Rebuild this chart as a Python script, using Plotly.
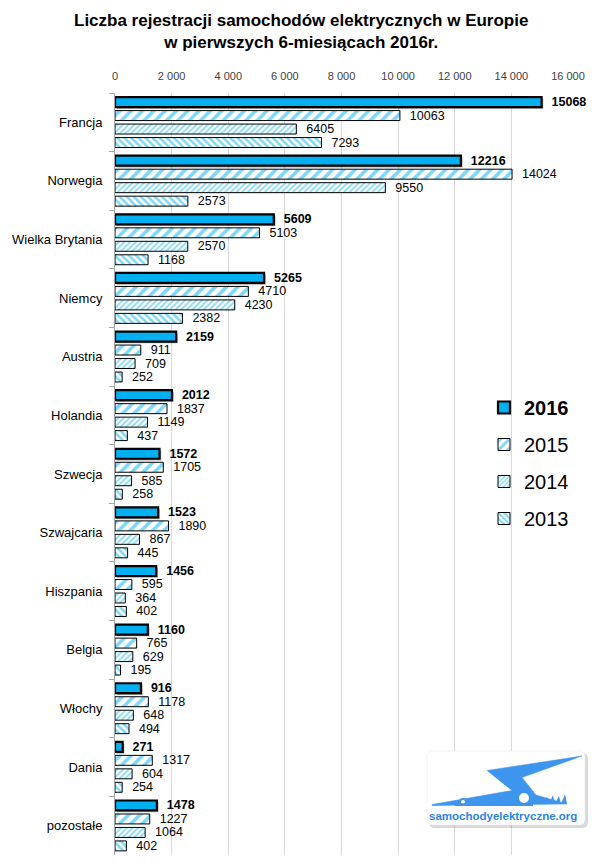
import plotly.graph_objects as go

categories = ["Francja", "Norwegia", "Wielka Brytania", "Niemcy", "Austria", "Holandia",
              "Szwecja", "Szwajcaria", "Hiszpania", "Belgia", "Włochy", "Dania", "pozostałe"]
y2016 = [15068, 12216, 5609, 5265, 2159, 2012, 1572, 1523, 1456, 1160, 916, 271, 1478]
y2015 = [10063, 14024, 5103, 4710, 911, 1837, 1705, 1890, 595, 765, 1178, 1317, 1227]
y2014 = [6405, 9550, 2570, 4230, 709, 1149, 585, 867, 364, 629, 648, 604, 1064]
y2013 = [7293, 2573, 1168, 2382, 252, 437, 258, 445, 402, 195, 494, 254, 402]
tick_vals = [0, 2000, 4000, 6000, 8000, 10000, 12000, 14000, 16000]
tick_text = ["0", "2 000", "4 000", "6 000", "8 000", "10 000", "12 000", "14 000", "16 000"]

BLUE = "#00B0F0"
W = 0.17
PITCH = 0.23
FONT = "Liberation Sans"
PAD = "\u00a0\u00a0"

fig = go.Figure()

# shadow for 2016 bars
fig.add_trace(go.Bar(
    y=categories, x=y2016, base=[60] * len(y2016), orientation="h",
    offset=-1.5 * PITCH - W / 2 + 0.03, width=W,
    marker=dict(color="rgba(0,0,0,0.35)", line=dict(width=0)),
    showlegend=False, hoverinfo="skip"))

series = [
    ("<b>2016</b>", y2016, dict(color=BLUE, line=dict(color="black", width=2.2)), True),
    ("2015", y2015, dict(color="white", line=dict(color="black", width=1),
                         pattern=dict(shape="/", fgcolor=BLUE, bgcolor="white", size=8, solidity=0.45)), False),
    ("2014", y2014, dict(color="white", line=dict(color="black", width=1),
                         pattern=dict(shape="/", fgcolor=BLUE, bgcolor="white", size=4, solidity=0.4)), False),
    ("2013", y2013, dict(color="white", line=dict(color="black", width=1),
                         pattern=dict(shape="\\", fgcolor=BLUE, bgcolor="white", size=5, solidity=0.5)), False),
]
for i, (name, vals, marker, bold) in enumerate(series):
    fig.add_trace(go.Bar(
        y=categories, x=vals, orientation="h", name=name,
        offset=(i - 1.5) * PITCH - W / 2, width=W,
        marker=marker,
        text=[f"{PAD}<b>{v}</b>" if bold else f"{PAD}{v}" for v in vals],
        textposition="outside", cliponaxis=False, constraintext="none",
        textfont=dict(family=FONT, size=12.5, color="black"),
        legendgroup=str(i)))

# ---- logo (decoration) ----
L, R, T, B = 115, 568, 93, 855
def X(px): return (px - L) / (R - L)
def Y(py): return (B - py) / (B - T)

def rrect(x0, y0, x1, y1, r):
    return (f"M {X(x0+r)} {Y(y0)} L {X(x1-r)} {Y(y0)} Q {X(x1)} {Y(y0)} {X(x1)} {Y(y0+r)} "
            f"L {X(x1)} {Y(y1-r)} Q {X(x1)} {Y(y1)} {X(x1-r)} {Y(y1)} "
            f"L {X(x0+r)} {Y(y1)} Q {X(x0)} {Y(y1)} {X(x0)} {Y(y1-r)} "
            f"L {X(x0)} {Y(y0+r)} Q {X(x0)} {Y(y0)} {X(x0+r)} {Y(y0)} Z")

LOGO = "#3d95ee"
shapes = []
shapes.append(dict(type="path", xref="paper", yref="paper", path=rrect(429, 753, 588, 828, 6),
                   fillcolor="rgba(0,0,0,0.15)", line=dict(width=0), layer="above"))
shapes.append(dict(type="path", xref="paper", yref="paper", path=rrect(427, 751, 585, 825, 6),
                   fillcolor="white", line=dict(color="#e6e6e6", width=0.5), layer="above"))
bolt = [(432, 804.5), (512, 790.5), (487, 770.5), (582, 756), (522, 777.5), (536, 795),
        (567, 804), (432, 805.5)]
path = "M " + " L ".join(f"{X(a)} {Y(b)}" for a, b in bolt) + " Z"
shapes.append(dict(type="path", xref="paper", yref="paper", path=path,
                   fillcolor=LOGO, line=dict(color=LOGO, width=0.5), layer="above"))
for cx, cy, rr in [(463, 802, 3), (524, 798, 6)]:
    shapes.append(dict(type="circle", xref="paper", yref="paper",
                       x0=X(cx - rr), x1=X(cx + rr), y0=Y(cy + rr), y1=Y(cy - rr),
                       fillcolor="white", line=dict(color=LOGO, width=2), layer="above"))
shapes.append(dict(type="rect", xref="paper", yref="paper", x0=X(455), x1=X(533), y0=Y(806), y1=Y(803.2),
                   fillcolor=LOGO, line=dict(width=0), layer="above"))
for fx, h in [(546, 7), (552, 9), (558, 8), (564, 10)]:
    shapes.append(dict(type="path", xref="paper", yref="paper",
                       path=f"M {X(fx-3)} {Y(804)} L {X(fx+1)} {Y(804-h)} L {X(fx+3)} {Y(804)} Z",
                       fillcolor=LOGO, line=dict(width=0), layer="above"))

fig.add_annotation(xref="paper", yref="paper", x=X(503), y=Y(816), text="<b>samochodyelektryczne.org</b>",
                   showarrow=False, font=dict(family=FONT, size=11.5, color="#2a86e6"),
                   xanchor="center", yanchor="middle")

# title
fig.add_annotation(xref="paper", yref="paper", x=X(301), y=Y(9), xanchor="center", yanchor="top",
                   text="<b>Liczba rejestracji samochodów elektrycznych w Europie<br>w pierwszych 6-miesiącach 2016r.</b>",
                   showarrow=False, align="center",
                   font=dict(family=FONT, size=17, color="black"))

fig.update_layout(
    width=600, height=864,
    margin=dict(l=115, r=32, t=93, b=9),
    paper_bgcolor="white", plot_bgcolor="white",
    barmode="overlay",
    font=dict(family=FONT, color="black"),
    xaxis=dict(side="top", range=[0, 16000], tickvals=tick_vals, ticktext=tick_text,
               showgrid=True, gridcolor="#d9d9d9", gridwidth=1, zeroline=False, showline=False,
               tickfont=dict(family=FONT, size=11, color="#404040"), ticks="",
               ticklabelstandoff=10),
    yaxis=dict(autorange="reversed", showline=True, linecolor="#a6a6a6", linewidth=1,
               ticks="outside", tickson="boundaries", ticklen=5, tickcolor="#a6a6a6",
               tickfont=dict(family=FONT, size=13, color="black"), showgrid=False,
               ticklabelstandoff=9),
    legend=dict(x=X(484), y=Y(388), xanchor="left", yanchor="top", xref="paper", yref="paper",
                font=dict(family=FONT, size=20, color="black"), tracegroupgap=8,
                bgcolor="rgba(0,0,0,0)"),
    shapes=shapes,
    showlegend=True,
)

fig.write_html("out.html")
